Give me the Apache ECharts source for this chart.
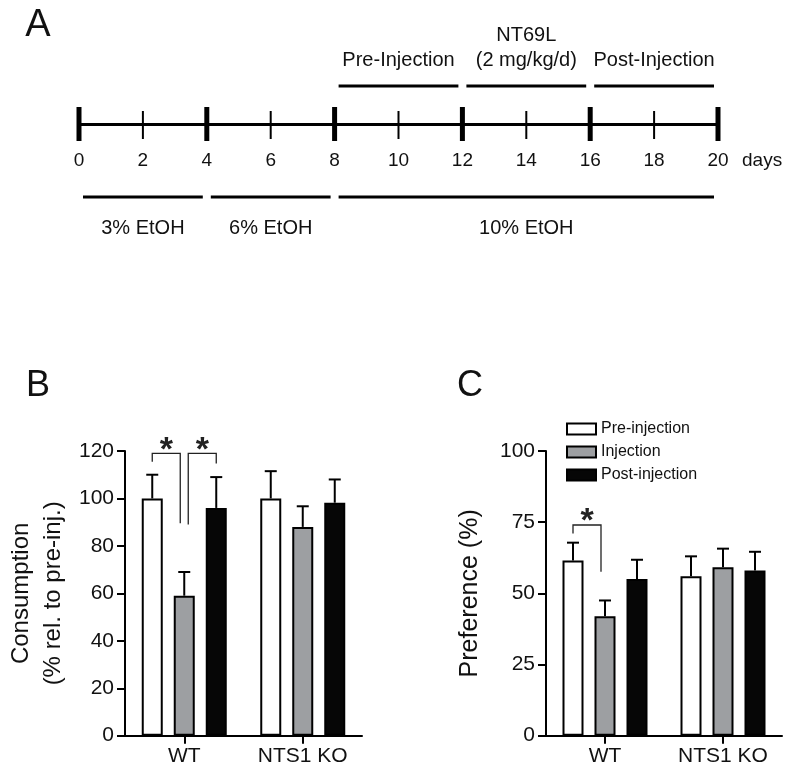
<!DOCTYPE html>
<html><head><meta charset="utf-8">
<script src="https://cdn.jsdelivr.net/npm/echarts@6/dist/echarts.min.js"></script>
<style>html,body{margin:0;padding:0;background:#fff}#c{width:800px;height:778px}</style>
</head><body><div id="c"></div>
<script>
// ---------- Panel A: timeline ----------
const timelineDays = [0, 2, 4, 6, 8, 10, 12, 14, 16, 18, 20];
const majorDays = [0, 4, 8, 12, 16, 20];
const topPeriodLabels = [['Pre-Injection'], ['NT69L', '(2 mg/kg/d)'], ['Post-Injection']];
const topPeriodStart = [8, 12, 16];
const topPeriodEnd = [12, 16, 20];
const bottomPeriodLabels = ['3% EtOH', '6% EtOH', '10% EtOH'];
const bottomPeriodStart = [0, 4, 8];
const bottomPeriodEnd = [4, 8, 20];

// ---------- Panels B and C ----------
const groups = ['WT', 'NTS1 KO'];
const phases = ['Pre-injection', 'Injection', 'Post-injection'];

const consumptionPre = [100, 100];
const consumptionInj = [59, 88];
const consumptionPost = [96, 98.2];
const consumptionPreErr = [10, 11.5];
const consumptionInjErr = [10, 8.7];
const consumptionPostErr = [13, 9.8];

const preferencePre = [61.5, 56];
const preferenceInj = [42, 59.2];
const preferencePost = [55, 58];
const preferencePreErr = [6.3, 7];
const preferenceInjErr = [5.5, 6.5];
const preferencePostErr = [6.8, 6.6];

// significance brackets: [group, fromBar, toBar, topY, leftEndY, rightEndY]
const sigConsumption = [[0, 0, 1, 119, 115.5, 89.5], [0, 1, 2, 119, 89, 114.7]];
const sigPreference = [[0, 0, 1, 74, 71, 57.6]];

// ---------- styling ----------
const FONT = 'Liberation Sans, Arial, Helvetica, sans-serif';
const BAR_W = 21, BAR_GAP = 11, BAR_STEP = BAR_W + BAR_GAP, CAP = 6, SPLIT = 4;
const COLORS = ['#ffffff', '#9d9fa2', '#060606'];
const TXT = '#111';

const chart = echarts.init(document.getElementById('c'), null, {renderer: 'canvas'});

function tickRender(params, api) {
  const d = api.value(0);
  const p = api.coord([d, 0]);
  const major = majorDays.indexOf(d) >= 0;
  const up = major ? 17 : 13, dn = major ? 17 : 15;
  return {type: 'line', shape: {x1: p[0], y1: p[1] - up, x2: p[0], y2: p[1] + dn},
    style: {stroke: '#000', lineWidth: major ? 5 : 2}};
}
function periodRender(isTop) {
  return function (params, api) {
    const i = params.dataIndex;
    const p0 = api.coord([api.value(0), 0]);
    const p1 = api.coord([api.value(1), 0]);
    const y0 = p0[1];
    const children = [];
    const ly = isTop ? y0 - 38 : y0 + 73;
    children.push({type: 'line', shape: {x1: p0[0] + 4, y1: ly, x2: p1[0] - 4, y2: ly},
      style: {stroke: '#000', lineWidth: 3}});
    const cx = (p0[0] + p1[0]) / 2;
    if (isTop) {
      const lines = topPeriodLabels[i];
      lines.forEach(function (t, k) {
        children.push({type: 'text', style: {text: t, x: cx, y: y0 - 64 - (lines.length - 1 - k) * 25,
          align: 'center', verticalAlign: 'middle', fontSize: 20, fontFamily: FONT, fill: TXT}});
      });
    } else {
      children.push({type: 'text', style: {text: bottomPeriodLabels[i], x: cx, y: y0 + 104,
        align: 'center', verticalAlign: 'middle', fontSize: 20, fontFamily: FONT, fill: TXT}});
    }
    return {type: 'group', children: children};
  };
}
function errRender(params, api) {
  const cat = api.value(0), v = api.value(1), e = api.value(2), bi = api.value(3);
  const base = api.coord([cat, v]);
  const top = api.coord([cat, v + e]);
  const x = base[0] + (bi - 1) * BAR_STEP;
  return {type: 'group', children: [
    {type: 'line', shape: {x1: x, y1: base[1], x2: x, y2: top[1]}, style: {stroke: '#000', lineWidth: 2}},
    {type: 'line', shape: {x1: x - CAP, y1: top[1], x2: x + CAP, y2: top[1]}, style: {stroke: '#000', lineWidth: 2}}
  ]};
}
function sigRender(params, api) {
  const cat = api.value(0), b0 = api.value(1), b1 = api.value(2);
  const c = api.coord([cat, api.value(3)]);
  let xl = c[0] + (b0 - 1) * BAR_STEP, xr = c[0] + (b1 - 1) * BAR_STEP;
  if (b0 === 1) xl += SPLIT;
  if (b1 === 1) xr -= SPLIT;
  const yT = c[1];
  const yL = api.coord([cat, api.value(4)])[1];
  const yR = api.coord([cat, api.value(5)])[1];
  return {type: 'group', children: [
    {type: 'polyline', shape: {points: [[xl, yL], [xl, yT], [xr, yT], [xr, yR]]},
      style: {stroke: '#222', lineWidth: 1.3, fill: null}},
    {type: 'text', style: {text: '*', x: (xl + xr) / 2, y: yT - 11 + 8, align: 'center', verticalAlign: 'middle',
      fontSize: 34, fontWeight: 'bold', fontFamily: FONT, fill: '#222'}}
  ]};
}
function errData(vals, errs, bi) {
  return vals.map(function (v, i) { return [i, v, errs[i], bi]; });
}
function barSeries(name, data, idx, ax) {
  return {type: 'bar', name: name, data: data, xAxisIndex: ax, yAxisIndex: ax,
    barWidth: BAR_W, barGap: (BAR_GAP / BAR_W * 100) + '%',
    itemStyle: {color: COLORS[idx], borderColor: '#000', borderWidth: 2}, emphasis: {disabled: true}, z: 2};
}
function catAxis(ax) {
  return {type: 'category', gridIndex: ax, data: groups,
    axisLine: {show: true, lineStyle: {color: '#000', width: 2}},
    axisTick: {show: true, alignWithLabel: true, length: 8, lineStyle: {color: '#000', width: 2}},
    axisLabel: {color: TXT, fontSize: 21, fontFamily: FONT, margin: 10},
    splitLine: {show: false}};
}
function valAxis(ax, max, interval, name, gap) {
  return {type: 'value', gridIndex: ax, min: 0, max: max, interval: interval,
    name: name, nameLocation: 'middle', nameRotate: 90, nameGap: gap,
    nameTextStyle: {color: TXT, fontSize: ax === 1 ? 24 : 25, fontFamily: FONT, lineHeight: 32},
    axisLine: {show: true, lineStyle: {color: '#000', width: 2}},
    axisTick: {show: true, length: 8, lineStyle: {color: '#000', width: 2}},
    axisLabel: {color: TXT, fontSize: 21, fontFamily: FONT, margin: 11},
    splitLine: {show: false}};
}

const option = {
  backgroundColor: '#fff',
  animation: false,
  textStyle: {fontFamily: FONT},
  graphic: [
    {type: 'text', x: 38, y: 26, style: {text: 'A', fontSize: 38, fontFamily: FONT, fill: '#111', align: 'center', verticalAlign: 'middle'}},
    {type: 'text', x: 38, y: 386, style: {text: 'B', fontSize: 36, fontFamily: FONT, fill: '#111', align: 'center', verticalAlign: 'middle'}},
    {type: 'text', x: 470, y: 386, style: {text: 'C', fontSize: 36, fontFamily: FONT, fill: '#111', align: 'center', verticalAlign: 'middle'}}
  ],
  legend: {
    data: phases, orient: 'vertical', left: 566, top: 421, itemWidth: 29, itemHeight: 11, itemGap: 7,
    padding: 0, icon: 'rect', selectedMode: false,
    itemStyle: {borderColor: '#000', borderWidth: 2},
    textStyle: {color: TXT, fontSize: 16, fontFamily: FONT}
  },
  grid: [
    {left: 79, width: 639, top: 24, height: 100},
    {left: 125, width: 237, top: 451, bottom: 42.3},
    {left: 546, width: 236, top: 451, bottom: 42.3}
  ],
  xAxis: [
    {type: 'value', gridIndex: 0, min: 0, max: 20, interval: 2,
      axisLine: {show: true, lineStyle: {color: '#000', width: 3}},
      axisTick: {show: false}, splitLine: {show: false},
      axisLabel: {color: TXT, fontSize: 19, fontFamily: FONT, margin: 27},
      name: 'days', nameLocation: 'end', nameGap: 24,
      nameTextStyle: {color: TXT, fontSize: 19, fontFamily: FONT, align: 'left', verticalAlign: 'top', padding: [27, 0, 0, 0]}},
    catAxis(1), catAxis(2)
  ],
  yAxis: [
    {type: 'value', gridIndex: 0, min: 0, max: 1, show: false},
    valAxis(1, 120, 20, 'Consumption\n(% rel. to pre-inj.)', 56),
    valAxis(2, 100, 25, 'Preference (%)', 60)
  ],
  series: [
    {type: 'custom', xAxisIndex: 0, yAxisIndex: 0, renderItem: tickRender,
      data: timelineDays.map(function (d) { return [d, 0]; }), encode: {x: 0, y: 1}, silent: true},
    {type: 'custom', xAxisIndex: 0, yAxisIndex: 0, renderItem: periodRender(true),
      data: topPeriodStart.map(function (s, i) { return [s, topPeriodEnd[i]]; }), encode: {x: [0, 1]}, silent: true},
    {type: 'custom', xAxisIndex: 0, yAxisIndex: 0, renderItem: periodRender(false),
      data: bottomPeriodStart.map(function (s, i) { return [s, bottomPeriodEnd[i]]; }), encode: {x: [0, 1]}, silent: true},

    barSeries(phases[0], consumptionPre, 0, 1),
    barSeries(phases[1], consumptionInj, 1, 1),
    barSeries(phases[2], consumptionPost, 2, 1),
    {type: 'custom', xAxisIndex: 1, yAxisIndex: 1, renderItem: errRender, z: 3, silent: true, encode: {x: 0, y: 1},
      data: errData(consumptionPre, consumptionPreErr, 0).concat(errData(consumptionInj, consumptionInjErr, 1), errData(consumptionPost, consumptionPostErr, 2))},
    {type: 'custom', xAxisIndex: 1, yAxisIndex: 1, renderItem: sigRender, z: 3, silent: true, encode: {x: 0, y: 3},
      data: sigConsumption},

    barSeries(phases[0], preferencePre, 0, 2),
    barSeries(phases[1], preferenceInj, 1, 2),
    barSeries(phases[2], preferencePost, 2, 2),
    {type: 'custom', xAxisIndex: 2, yAxisIndex: 2, renderItem: errRender, z: 3, silent: true, encode: {x: 0, y: 1},
      data: errData(preferencePre, preferencePreErr, 0).concat(errData(preferenceInj, preferenceInjErr, 1), errData(preferencePost, preferencePostErr, 2))},
    {type: 'custom', xAxisIndex: 2, yAxisIndex: 2, renderItem: sigRender, z: 3, silent: true, encode: {x: 0, y: 3},
      data: sigPreference}
  ]
};
chart.setOption(option);
</script>
</body></html>
